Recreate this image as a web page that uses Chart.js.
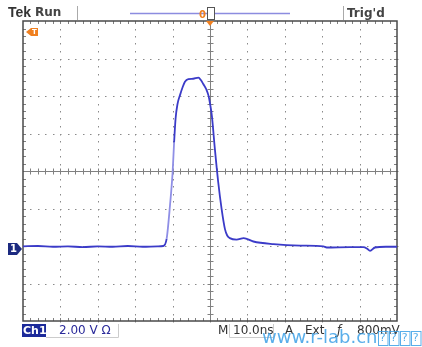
<!DOCTYPE html>
<html>
<head>
<meta charset="utf-8">
<script src="https://cdn.jsdelivr.net/npm/chart.js@4.4.0/dist/chart.umd.min.js"></script>
<style>
  html, body { margin: 0; padding: 0; background: #ffffff; }
  #wrap { width: 422px; height: 347px; position: relative; }
</style>
</head>
<body>
<div id="wrap"><canvas id="scope" width="422" height="347"></canvas></div>
<script>
// Trace: time in divisions (0..10), level in divisions (-4..4)
const timeDiv = [0, 0.4, 0.8, 1.2, 1.6, 2.0, 2.4, 2.8, 3.2, 3.6, 3.75, 3.84, 3.93, 4.0, 4.04, 4.08, 4.13, 4.2, 4.27, 4.33, 4.42, 4.55, 4.69, 4.76, 4.82, 4.9, 4.96, 5.0, 5.05, 5.13, 5.22, 5.31, 5.4, 5.46, 5.53, 5.71, 5.9, 6.16, 6.7, 7.41, 8.03, 8.12, 8.74, 9.1, 9.2, 9.28, 9.41, 9.7, 10.0];
const levelDiv = [-2.01, -2.0, -2.02, -2.01, -2.03, -2.01, -2.02, -2.0, -2.02, -2.01, -2.0, -1.81, -0.92, -0.04, 0.76, 1.4, 1.78, 2.03, 2.24, 2.38, 2.45, 2.46, 2.49, 2.42, 2.32, 2.18, 2.01, 1.8, 1.47, 0.59, -0.3, -1.01, -1.55, -1.72, -1.79, -1.83, -1.79, -1.88, -1.95, -1.99, -2.01, -2.04, -2.03, -2.03, -2.07, -2.13, -2.04, -2.02, -2.02];

const xDivs = 10;
const yDivs = 8;
const traceColor = '#3b3bc8';

// Dotted graticule, centre cross and border ticks
const graticule = {
    id: 'graticule',
    beforeDatasetsDraw(chart) {
        const c = chart.ctx;
        const xs = chart.scales.x, ys = chart.scales.y;
        const a = chart.chartArea;
        c.save();
        c.fillStyle = '#8a8a8a';
        // dots along vertical grid lines
        for (let i = 1; i < xDivs; i++) {
            const px = Math.round(xs.getPixelForValue(i));
            for (let j = 0; j <= yDivs * 5; j++) {
                const py = Math.round(ys.getPixelForValue(-4 + j / 5));
                c.fillRect(px, py, 1, 1.5);
            }
        }
        // dots along horizontal grid lines
        for (let j = 1; j < yDivs; j++) {
            const py = Math.round(ys.getPixelForValue(-4 + j));
            for (let i = 0; i <= xDivs * 5; i++) {
                const px = Math.round(xs.getPixelForValue(i / 5));
                c.fillRect(px, py, 1.5, 1);
            }
        }
        // centre cross
        c.strokeStyle = '#808080';
        c.lineWidth = 1;
        const cx = Math.round(xs.getPixelForValue(5)) + 0.5;
        const cy = Math.round(ys.getPixelForValue(0)) + 0.5;
        c.beginPath();
        c.moveTo(a.left, cy); c.lineTo(a.right, cy);
        c.moveTo(cx, a.top); c.lineTo(cx, a.bottom);
        for (let i = 1; i < xDivs * 5; i++) {
            const px = Math.round(xs.getPixelForValue(i / 5)) + 0.5;
            c.moveTo(px, cy - 3); c.lineTo(px, cy + 3);
            c.moveTo(px, a.top); c.lineTo(px, a.top + 3);
            c.moveTo(px, a.bottom); c.lineTo(px, a.bottom - 3);
        }
        for (let j = 1; j < yDivs * 5; j++) {
            const py = Math.round(ys.getPixelForValue(-4 + j / 5)) + 0.5;
            c.moveTo(cx - 3, py); c.lineTo(cx + 3, py);
            c.moveTo(a.left, py); c.lineTo(a.left + 3, py);
            c.moveTo(a.right, py); c.lineTo(a.right - 3, py);
        }
        c.stroke();
        // border
        c.strokeStyle = '#4a4a4a';
        c.lineWidth = 1.5;
        c.strokeRect(a.left, a.top, a.right - a.left, a.bottom - a.top);
        c.restore();
    }
};

// Readouts and markers around the screen
const readouts = {
    id: 'readouts',
    afterDraw(chart) {
        const c = chart.ctx;
        const xs = chart.scales.x, ys = chart.scales.y;
        const a = chart.chartArea;
        const cx = xs.getPixelForValue(5);
        c.save();
        c.textBaseline = 'middle';
        c.font = 'bold 14px "Liberation Sans"';
        c.fillStyle = '#333333';
        c.fillText('Tek', 8, 13);
        c.font = 'bold 12px "DejaVu Sans"';
        c.fillStyle = '#444444';
        c.fillText('Run', 35, 13);
        c.fillText("Trig'd", 347, 14);
        // separators
        c.strokeStyle = '#aaaaaa';
        c.lineWidth = 1;
        c.beginPath();
        c.moveTo(77.5, 6); c.lineTo(77.5, 20);
        c.moveTo(343.5, 6); c.lineTo(343.5, 20);
        c.stroke();
        // record bar
        c.strokeStyle = '#8c8ce0';
        c.lineWidth = 1.5;
        c.beginPath();
        c.moveTo(130, 13.5); c.lineTo(290, 13.5);
        c.stroke();
        c.fillStyle = '#ffffff';
        c.fillRect(207, 7, 8, 13);
        c.strokeStyle = '#555555';
        c.lineWidth = 1;
        c.strokeRect(207.5, 7.5, 7, 12);
        c.fillStyle = '#f08020';
        c.font = 'bold 10px "DejaVu Sans"';
        c.fillText('0', 199, 15);
        // trigger position marker
        c.beginPath();
        c.moveTo(cx - 4, a.top); c.lineTo(cx + 4, a.top); c.lineTo(cx, a.top + 5);
        c.closePath();
        c.fill();
        // trigger level marker
        const ty = 32;
        c.beginPath();
        c.moveTo(a.left + 3, ty); c.lineTo(a.left + 8, ty - 4); c.lineTo(a.left + 8, ty + 4);
        c.closePath();
        c.fill();
        c.fillRect(a.left + 8, ty - 4, 7, 8);
        c.fillStyle = '#ffffff';
        c.font = 'bold 7px "DejaVu Sans"';
        c.fillText('T', a.left + 9, ty + 0.5);
        // channel 1 ground marker
        const gy = Math.round(ys.getPixelForValue(-2.08));
        c.fillStyle = '#1c2a80';
        c.fillRect(8, gy - 6, 9, 12);
        c.beginPath();
        c.moveTo(17, gy - 6); c.lineTo(22, gy); c.lineTo(17, gy + 6);
        c.closePath();
        c.fill();
        c.fillStyle = '#ffffff';
        c.font = 'bold 10px "DejaVu Sans"';
        c.fillText('1', 10, gy + 0.5);
        // bottom readouts
        const by = 330;
        c.fillStyle = '#1c2a9a';
        c.fillRect(22, by - 6, 24, 13);
        c.fillStyle = '#ffffff';
        c.font = 'bold 11px "DejaVu Sans"';
        c.fillText('Ch1', 23, by + 1);
        c.fillStyle = '#2a2a9a';
        c.font = '12px "DejaVu Sans"';
        c.fillText('2.00 V \u03a9', 59, by + 1);
        c.strokeStyle = '#cccccc';
        c.beginPath();
        c.moveTo(46, by + 7.5); c.lineTo(118.5, by + 7.5); c.lineTo(118.5, by - 6);
        c.stroke();
        c.fillStyle = '#333333';
        c.fillText('M', 218, by + 1);
        c.fillText('10.0ns', 233, by + 1);
        c.beginPath();
        c.moveTo(229.5, by - 6); c.lineTo(229.5, by + 7.5); c.lineTo(273.5, by + 7.5); c.lineTo(273.5, by - 6);
        c.stroke();
        c.fillText('A', 285, by + 1);
        c.fillText('Ext', 305, by + 1);
        c.font = 'italic 12px "DejaVu Sans"';
        c.fillText('\u0192', 337, by + 1);
        c.font = '12px "DejaVu Sans"';
        c.fillText('800mV', 357, by + 1);
        // watermark
        c.fillStyle = 'rgba(60,160,230,0.85)';
        c.font = '18px "DejaVu Sans"';
        c.fillText('www.r-lab.cn', 262, 338);
        c.strokeStyle = 'rgba(60,160,230,0.85)';
        c.font = '11px "DejaVu Sans"';
        for (let k = 0; k < 4; k++) {
            const bx = 378 + k * 11;
            c.strokeRect(bx + 0.5, 331.5, 9.5, 14);
            c.fillText('?', bx + 1.8, 338.5);
        }
        c.restore();
    }
};

const points = timeDiv.map((t, i) => ({ x: t, y: levelDiv[i] }));

new Chart(document.getElementById('scope').getContext('2d'), {
    type: 'line',
    data: {
        datasets: [{
            data: points,
            borderColor: traceColor,
            borderWidth: 1.8,
            pointRadius: 0,
            cubicInterpolationMode: 'monotone',
            segment: {
                // fast rising edge looks faint on the scope
                borderColor: ctx => ctx.p1.parsed.y - ctx.p0.parsed.y > 0.7 ? '#8f8fe6' : traceColor
            }
        }]
    },
    options: {
        responsive: false,
        animation: false,
        events: [],
        layout: { padding: { left: 23, right: 25, top: 21, bottom: 26 } },
        plugins: { legend: { display: false }, tooltip: { enabled: false } },
        scales: {
            x: { type: 'linear', min: 0, max: xDivs, display: false },
            y: { type: 'linear', min: -4, max: 4, display: false }
        }
    },
    plugins: [graticule, readouts]
});
</script>
</body>
</html>
